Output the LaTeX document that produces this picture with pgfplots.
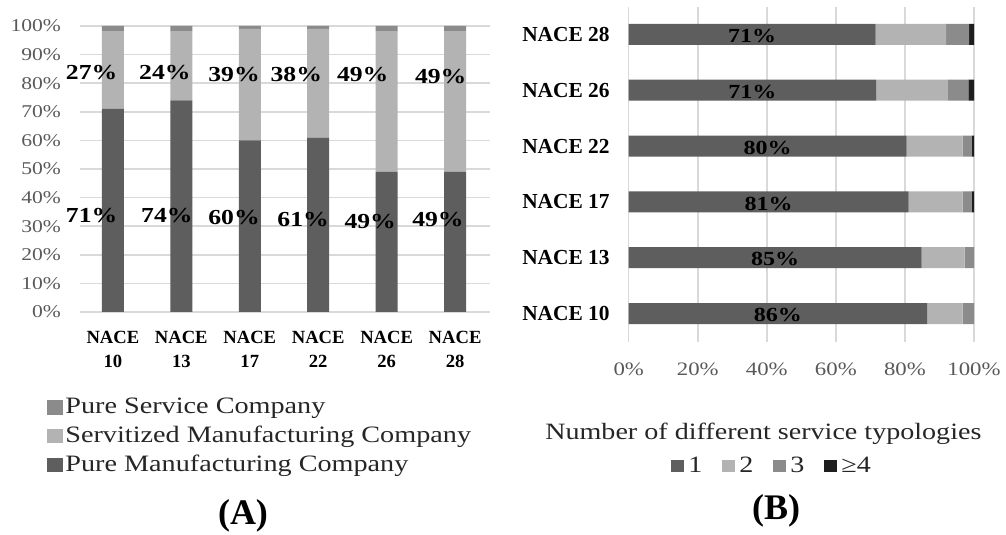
\documentclass[border=0pt]{standalone}
\usepackage{fontspec}
\setmainfont[FakeStretch=1.2]{Liberation Serif}
\newfontfamily\nacefont{Liberation Serif}
\usepackage{pgfplots}
\pgfplotsset{compat=1.18}
\usepackage{pgfplotstable}

\definecolor{pm}{HTML}{5E5E5E}
\definecolor{sm}{HTML}{B3B3B3}
\definecolor{ps}{HTML}{8B8B8B}
\definecolor{four}{HTML}{1E1E1E}
\definecolor{gridc}{HTML}{D9D9D9}
\definecolor{tickc}{HTML}{595959}
\definecolor{txt}{HTML}{262626}

% (A) share of company types per NACE sector
\pgfplotstableread{
x pm sm ps
0 71 27 2
1 74 24 2
2 60 39 1
3 61 38 1
4 49 49 2
5 49 49 2
}\companytable

% (B) number of service typologies, y=0 is NACE 10
\pgfplotstableread{
y one two three four
0 86.4 10.3 3.3 0.0
1 84.8 12.5 2.7 0.0
2 81.1 15.6 2.7 0.6
3 80.5 16.2 2.7 0.6
4 71.7 20.6 6.1 1.6
5 71.5 20.4 6.7 1.4
}\typetable

\begin{document}
\begin{tikzpicture}
\useasboundingbox (0,0) rectangle (503pt,267.5pt);

\begin{axis}[
  clip=false,
  at={(40pt,111.5pt)}, anchor=south west,
  scale only axis, width=205pt, height=143pt,
  ybar stacked, bar width=11pt,
  xmin=-0.48, xmax=5.51, ymin=0, ymax=100,
  axis line style={draw=none}, major tick length=0pt,
  ymajorgrids, grid style={gridc, line width=0.75pt},
  ytick={0,10,...,100},
  yticklabel={\pgfmathprintnumber{\tick}\%},
  /pgf/number format/assume math mode=true,
  yticklabel style={font=\fontsize{9}{9}\selectfont, text=tickc, xshift=-6pt},
  xtick={0,...,5},
  xticklabels={{NACE\\10},{NACE\\13},{NACE\\17},{NACE\\22},{NACE\\26},{NACE\\28}},
  xticklabel style={align=center, font=\nacefont\bfseries\fontsize{9.3}{12}\selectfont, yshift=-6pt},
  reverse legend,
  legend image code/.code={\fill[#1] (0pt,-3.6pt) rectangle (7.6pt,3.6pt);},
  legend style={at={(-0.0805,-0.29)}, anchor=north west, draw=none, fill=none,
    font=\fontsize{11.75}{14}\selectfont, text=txt, row sep=2pt, inner sep=0pt,
    cells={anchor=west}, nodes={inner sep=1.4pt}},
]
\addplot[fill=pm, draw=none] table[x=x, y=pm] {\companytable};
\addplot[fill=sm, draw=none] table[x=x, y=sm] {\companytable};
\addplot[fill=ps, draw=none] table[x=x, y=ps] {\companytable};
\legend{Pure Manufacturing Company, Servitized Manufacturing Company, Pure Service Company}
\coordinate (s0) at (axis cs:-0.31,83.6);
\coordinate (s1) at (axis cs:0.76,83.6);
\coordinate (s2) at (axis cs:1.77,82.9);
\coordinate (s3) at (axis cs:2.68,83.2);
\coordinate (s4) at (axis cs:3.65,83.2);
\coordinate (s5) at (axis cs:4.79,82.2);
\coordinate (m0) at (axis cs:-0.31,33.9);
\coordinate (m1) at (axis cs:0.79,33.6);
\coordinate (m2) at (axis cs:1.77,32.9);
\coordinate (m3) at (axis cs:2.78,32.2);
\coordinate (m4) at (axis cs:3.76,31.5);
\coordinate (m5) at (axis cs:4.75,32.5);
\end{axis}

\begin{scope}[every node/.style={font=\bfseries\fontsize{10.7}{10.7}\selectfont}]
\node at (s0) {27\%}; \node at (s1) {24\%}; \node at (s2) {39\%};
\node at (s3) {38\%}; \node at (s4) {49\%}; \node at (s5) {49\%};
\node at (m0) {71\%}; \node at (m1) {74\%}; \node at (m2) {60\%};
\node at (m3) {61\%}; \node at (m4) {49\%}; \node at (m5) {49\%};
\end{scope}

\begin{axis}[
  clip=false,
  at={(314.35pt,96.5pt)}, anchor=south west,
  scale only axis, width=172.65pt, height=167.5pt,
  xbar stacked, bar width=10.5pt,
  xmin=0, xmax=100, ymin=-0.51, ymax=5.49,
  axis line style={draw=none}, major tick length=0pt,
  xmajorgrids, grid style={gridc, line width=0.75pt},
  xtick={0,20,...,100},
  xticklabel={\pgfmathprintnumber{\tick}\%},
  /pgf/number format/assume math mode=true,
  xticklabel style={font=\fontsize{9.5}{9.5}\selectfont, text=tickc, yshift=-7pt},
  ytick={0,...,5},
  yticklabels={NACE 10,NACE 13,NACE 17,NACE 22,NACE 26,NACE 28},
  yticklabel style={font=\nacefont\bfseries\fontsize{10.7}{10.7}\selectfont, xshift=-6pt},
  legend image code/.code={\fill[#1] (0pt,-3.2pt) rectangle (6.5pt,3.2pt);},
  legend columns=4,
  legend style={at={(0.418,-0.37)}, anchor=center, draw=none, fill=none,
    font=\fontsize{11.7}{12}\selectfont, text=txt, inner sep=0pt,
    nodes={inner sep=2pt},
    /tikz/every even column/.append style={column sep=8pt}},
]
\addplot[fill=pm, draw=none] table[x=one, y=y] {\typetable};
\addplot[fill=sm, draw=none] table[x=two, y=y] {\typetable};
\addplot[fill=ps, draw=none] table[x=three, y=y] {\typetable};
\addplot[fill=four, draw=none] table[x=four, y=y] {\typetable};
\legend{1,2,3,≥4}
\coordinate (b5) at (axis cs:35.75,4.97);
\coordinate (b4) at (axis cs:35.85,3.97);
\coordinate (b3) at (axis cs:40.25,2.97);
\coordinate (b2) at (axis cs:40.55,1.97);
\coordinate (b1) at (axis cs:42.4,0.97);
\coordinate (b0) at (axis cs:43.2,-0.03);
\coordinate (btitle) at (rel axis cs:0.39,-0.274);
\end{axis}

\begin{scope}[every node/.style={font=\bfseries\fontsize{10}{10}\selectfont}]
\node at (b5) {71\%}; \node at (b4) {71\%}; \node at (b3) {80\%};
\node at (b2) {81\%}; \node at (b1) {85\%}; \node at (b0) {86\%};
\end{scope}
\node[font=\fontsize{11.7}{12}\selectfont, text=txt] at (btitle) {Number of different service typologies};

\node[font=\nacefont\bfseries\fontsize{18}{18}\selectfont] at (121.5pt,9.5pt) {(A)};
\node[font=\nacefont\bfseries\fontsize{18}{18}\selectfont] at (388pt,12pt) {(B)};
\end{tikzpicture}
\end{document}
